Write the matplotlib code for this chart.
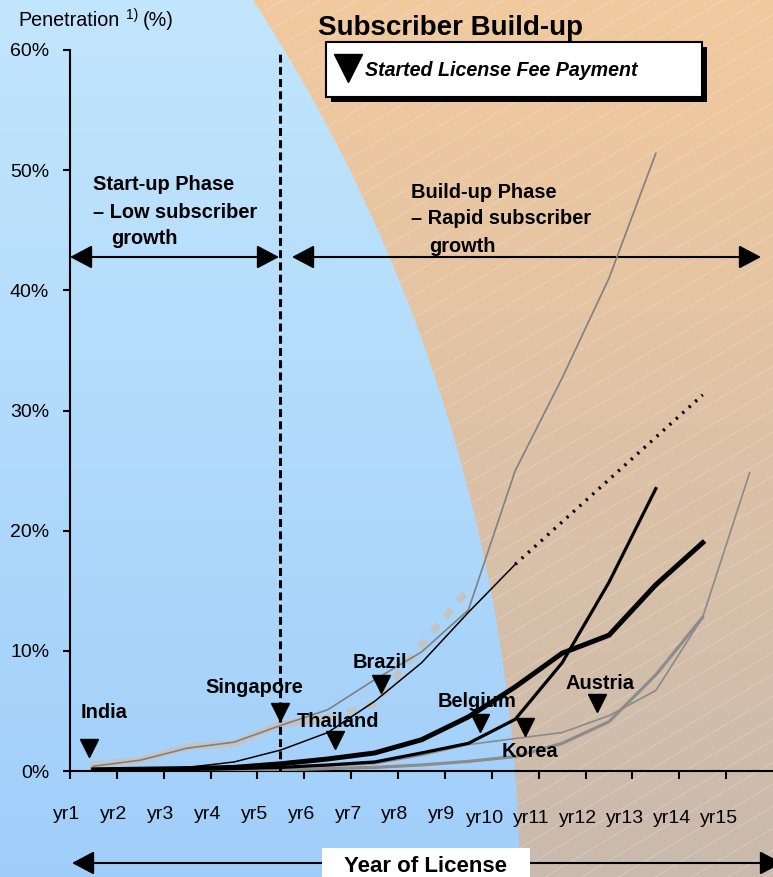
import matplotlib
matplotlib.use("Agg")
import matplotlib.pyplot as plt
import numpy as np
from matplotlib.path import Path
from matplotlib.patches import PathPatch, Rectangle, FancyArrowPatch

plt.rcParams['font.family'] = ['Liberation Sans', 'DejaVu Sans']

# ---- data (penetration in %, one value per year, starting at yr1) ----
years = ['yr1', 'yr2', 'yr3', 'yr4', 'yr5', 'yr6', 'yr7', 'yr8',
         'yr9', 'yr10', 'yr11', 'yr12', 'yr13', 'yr14', 'yr15']
light_grey = [0.5, 0.9, 2.0, 2.3, 3.9, 4.4]
light_grey_fcst = [4.4, 5.6, 10.5, 15.1]          # yr6 .. yr9
grey_top = [0.4, 0.9, 1.9, 2.4, 3.8, 5.1, 7.6, 9.9, 13.4, 25.0, 32.7, 41.0, 51.4]
black_thin = [0.0, 0.1, 0.3, 0.75, 1.75, 3.2, 5.8, 9.0, 13.2, 17.2]
black_thin_fcst = [17.2, 31.3]                     # yr10 -> yr14
black_fcst_years = [9, 13]
black_thick = [0.1, 0.15, 0.2, 0.3, 0.6, 1.0, 1.5, 2.6, 4.5, 7.0, 9.8, 11.3, 15.5, 19.0]
black_mid = [0.05, 0.1, 0.15, 0.2, 0.3, 0.5, 0.75, 1.5, 2.3, 4.3, 9.0, 15.7, 23.5]
grey_low = [0.1, 0.1, 0.15, 0.2, 0.3, 0.4, 0.6, 1.3, 2.2, 2.7, 3.2, 4.6, 6.7, 12.8, 24.8]
grey_mid = [0.0, 0.0, 0.0, 0.05, 0.1, 0.2, 0.3, 0.5, 0.8, 1.2, 2.3, 4.1, 8.0, 12.8]

# start of license fee payment (year position, penetration %)
countries = ['India', 'Singapore', 'Thailand', 'Brazil', 'Belgium', 'Korea', 'Austria']
fee_year = [0.41, 4.48, 5.66, 6.64, 8.75, 9.71, 11.25]
fee_pen = [1.9, 4.9, 2.6, 7.2, 4.0, 3.7, 5.7]
label_off = [(15, 36), (-26, 25), (3, 18), (-1, 22), (-3, 21), (5, -25), (3, 19)]

phase_split = 4.48

W, H = 773, 877
fig = plt.figure(figsize=(W / 100, H / 100), dpi=100)

# ---- background ----
bg = fig.add_axes([0, 0, 1, 1])
bg.set_xlim(0, W)
bg.set_ylim(H, 0)
bg.axis('off')

blue = np.array([[0.76, 0.90, 0.99], [0.63, 0.81, 0.98]])
t = np.linspace(0, 1, 256)[:, None]
grad_b = blue[0] * (1 - t) + blue[1] * t
bg.imshow(grad_b[:, None, :], extent=[0, W, H, 0], aspect='auto', zorder=0)

yy = np.linspace(0, H, 200)
xx = -1130 + np.sqrt(1650 ** 2 - (yy - 900) ** 2)
verts = list(zip(xx, yy)) + [(W + 5, H + 5), (W + 5, -5), (xx[0], -5)]
orange_path = Path(verts + [verts[0]], [Path.MOVETO] + [Path.LINETO] * (len(verts) - 1) + [Path.CLOSEPOLY])
patch = PathPatch(orange_path, facecolor='none', edgecolor='none')
bg.add_patch(patch)
orange = np.array([[0.95, 0.79, 0.62], [0.79, 0.73, 0.68]])
grad_o = orange[0] * (1 - t) + orange[1] * t
im = bg.imshow(grad_o[:, None, :], extent=[0, W, H, 0], aspect='auto', zorder=1)
im.set_clip_path(patch)
hx = np.array([0, W])
for b in range(-600, 1500, 22):
    ln, = bg.plot(hx, b - 0.6 * hx, color='white', alpha=0.25, lw=0.6, zorder=2)
    ln.set_clip_path(patch)
bg.set_xlim(0, W)
bg.set_ylim(H, 0)

# ---- chart ----
ax = fig.add_axes([70 / W, (H - 771) / H, (W - 70) / W, 721 / H])
ax.patch.set_alpha(0)
ax.set_xlim(0, 15)
ax.set_ylim(0, 60)
for s in ['top', 'right']:
    ax.spines[s].set_visible(False)
ax.spines['left'].set_linewidth(1.5)
ax.spines['bottom'].set_linewidth(1.5)
ax.set_yticks(range(0, 61, 10))
ax.set_yticklabels([f'{v}%' for v in range(0, 61, 10)])
ax.tick_params(axis='y', direction='out', length=5, width=1.5, labelsize=14, pad=10)
ax.set_xticks(range(15))
ax.set_xticklabels([])
ax.tick_params(axis='x', direction='out', length=6, width=1.5)

for k, lab in enumerate(years):
    dx, dy = (-0.065, -3.6) if k < 9 else (-0.15, -3.95)
    ax.text(k + dx, dy, lab, ha='center', va='center', fontsize=14, clip_on=False)

def xs(vals, start=0):
    return np.arange(start, start + len(vals)) + 0.5

ax.plot(xs(grey_mid), grey_mid, color='#8c8c8c', lw=2.3, zorder=3)
ax.plot(xs(grey_low), grey_low, color='#8a8a8a', lw=1.2, zorder=3)
ax.plot(xs(light_grey), light_grey, color='#c4c4c4', lw=5, solid_joinstyle='round', zorder=3)
ax.plot(xs(light_grey_fcst, 5), light_grey_fcst, color='#c4c4c4', lw=5,
        linestyle=(0, (1.4, 1.5)), dash_capstyle='butt', zorder=3)
ax.plot(xs(grey_top), grey_top, color='#808080', lw=1.2, zorder=4)
ax.plot(xs(black_thin), black_thin, color='black', lw=1.1, zorder=5)
ax.plot(np.array(black_fcst_years) + 0.5, black_thin_fcst, color='black', lw=2.4,
        linestyle=(0, (0.7, 1.9)), zorder=5)
ax.plot(xs(black_mid), black_mid, color='black', lw=2.3, zorder=5)
ax.plot(xs(black_thick), black_thick, color='black', lw=3.6, zorder=5)

ax.axvline(phase_split, 0, 1, color='black', lw=2.2, linestyle=(0, (2.6, 1.4)), zorder=6)

ax.plot(fee_year, fee_pen, linestyle='none', marker='v', markersize=13,
        color='black', zorder=7, clip_on=False)
for c, x, y, off in zip(countries, fee_year, fee_pen, label_off):
    ax.annotate(c, (x, y), xytext=off, textcoords='offset pixels', ha='center',
                va='center', fontsize=14.4, fontweight='bold', zorder=8)

# phase arrows
arr = dict(arrowstyle='<|-|>,head_length=0.68,head_width=0.36', mutation_scale=20,
           color='black', lw=1.5, shrinkA=0, shrinkB=0)
bg.add_patch(FancyArrowPatch((70, 257), (279, 257), zorder=9, **arr))
bg.add_patch(FancyArrowPatch((292, 257), (761, 257), zorder=9, **arr))
bg.add_patch(FancyArrowPatch((72, 863), (782, 863), zorder=9, **arr))

# texts
tb = dict(fontsize=14.4, fontweight='bold', va='center', ha='left', zorder=10)
bg.text(93, 185, 'Start-up Phase', **tb)
bg.text(93, 212, '– Low subscriber', **tb)
bg.text(111, 238, 'growth', **tb)
bg.text(411, 192, 'Build-up Phase', **tb)
bg.text(411, 219, '– Rapid subscriber', **tb)
bg.text(429, 246, 'growth', **tb)

bg.text(18, 20, 'Penetration', fontsize=14.2, va='center', ha='left', zorder=10)
bg.text(126, 15, '1)', fontsize=10, va='center', ha='left', zorder=10)
bg.text(143, 20, '(%)', fontsize=14.2, va='center', ha='left', zorder=10)
bg.text(318, 28, 'Subscriber Build-up', fontsize=20, fontweight='bold',
        va='center', ha='left', zorder=10)

bg.add_patch(Rectangle((331, 47), 376, 55, facecolor='black', edgecolor='none', zorder=10))
bg.add_patch(Rectangle((326, 42), 376, 55, facecolor='white', edgecolor='black', lw=1.5, zorder=11))
bg.plot([348], [68], marker='v', markersize=20, color='black', zorder=12)
bg.text(365, 70, 'Started License Fee Payment', fontsize=14.1, fontweight='bold',
        fontstyle='italic', va='center', ha='left', zorder=12)

bg.add_patch(Rectangle((322, 848), 208, 40, facecolor='white', edgecolor='none', zorder=10))
bg.text(426, 866, 'Year of License', fontsize=16, fontweight='bold',
        va='center', ha='center', zorder=11)

fig.savefig('out.png', dpi=100)
